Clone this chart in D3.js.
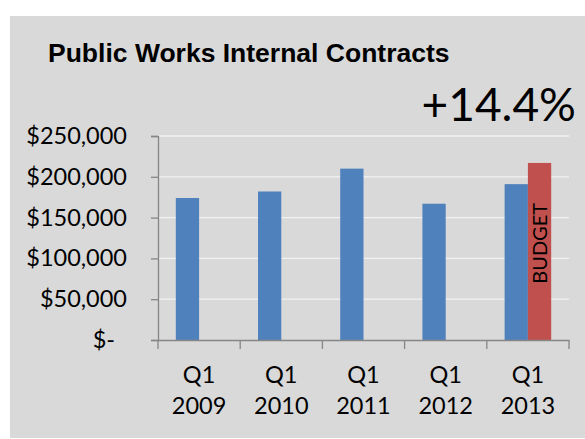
<!DOCTYPE html>
<html>
<head>
<meta charset="utf-8">
<script src="https://cdnjs.cloudflare.com/ajax/libs/d3/7.8.5/d3.min.js"></script>
<style>
body { margin: 0; background: #fff; }
svg text { font-family: Lato, "Open Sans", sans-serif; fill: #000; }
</style>
</head>
<body>
<svg id="chart"></svg>
<script>
const categories = ["Q1 2009", "Q1 2010", "Q1 2011", "Q1 2012", "Q1 2013"];
const quarterLabels = ["Q1", "Q1", "Q1", "Q1", "Q1"];
const yearLabels = ["2009", "2010", "2011", "2012", "2013"];
const actualValues = [174000, 182000, 210000, 167000, 191000];
const budgetValues = [null, null, null, null, 217000];
const seriesNames = ["Actual", "Budget"];
const yTicks = [0, 50000, 100000, 150000, 200000, 250000];
const titleText = "Public Works Internal Contracts";
const changeText = "+14.4%";
const budgetLabel = "BUDGET";

const width = 585, height = 439;
const plotLeft = 158, plotRight = 569, plotTop = 136, plotBottom = 340;

const svg = d3.select("#chart")
    .attr("width", width)
    .attr("height", height);

// panel background
svg.append("rect")
    .attr("x", 10).attr("y", 16)
    .attr("width", width - 10).attr("height", height - 17)
    .attr("fill", "#d9d9d9");

// scales
const x = d3.scaleBand()
    .domain(categories)
    .range([plotLeft, plotRight])
    .padding(0);

const xs = d3.scaleBand()
    .domain(seriesNames)
    .range([0, x.bandwidth()])
    .paddingInner(0)
    .paddingOuter(0.765);

const y = d3.scaleLinear()
    .domain([0, 250000])
    .range([plotBottom, plotTop]);

// gridlines
svg.append("g")
    .selectAll("line")
    .data(yTicks.filter(d => d > 0))
    .enter()
    .append("line")
    .attr("x1", plotLeft).attr("x2", plotRight)
    .attr("y1", d => y(d)).attr("y2", d => y(d))
    .attr("stroke", "#f2f2f2")
    .attr("stroke-width", 1.3);

// bars
const rows = categories.map((c, i) => ({ key: c, Actual: actualValues[i], Budget: budgetValues[i] }));
const colors = { Actual: "#4f81bd", Budget: "#c0504d" };

const groups = svg.append("g")
    .selectAll("g")
    .data(rows)
    .enter()
    .append("g")
    .attr("transform", d => `translate(${x(d.key)},0)`);

groups.selectAll("rect")
    .data(d => seriesNames.filter(s => d[s] != null).map(s => ({ s: s, v: d[s] })))
    .enter()
    .append("rect")
    .attr("x", d => xs(d.s))
    .attr("width", xs.bandwidth())
    .attr("y", d => y(d.v))
    .attr("height", d => plotBottom - y(d.v))
    .attr("fill", d => colors[d.s]);

// budget label inside bar
groups.filter(d => d.Budget != null)
    .append("text")
    .attr("transform", d => `translate(${xs("Budget") + xs.bandwidth() / 2},${y(d.Budget) + 40}) rotate(-90)`)
    .attr("text-anchor", "end")
    .attr("dy", "0.36em")
    .style("font-size", "20px")
    .text(budgetLabel);

// y axis
const yAxis = d3.axisLeft(y)
    .tickValues(yTicks)
    .tickSize(7)
    .tickPadding(24)
    .tickFormat(d => d === 0 ? "$-" : "$" + d3.format(",")(d));

const gy = svg.append("g")
    .attr("transform", `translate(${plotLeft},0)`)
    .call(yAxis);
gy.select(".domain").attr("stroke", "#868686").attr("stroke-width", 1.3);
gy.selectAll(".tick line").attr("stroke", "#868686").attr("stroke-width", 1.3);
gy.selectAll(".tick text")
    .style("font-size", "23.5px")
    .attr("fill", "#000")
    .attr("x", d => d === 0 ? -43 : -31);

// x axis
const xAxis = d3.axisBottom(x).tickSize(0).tickFormat("");
const gx = svg.append("g")
    .attr("transform", `translate(0,${plotBottom})`)
    .call(xAxis);
gx.select(".domain").attr("stroke", "#868686").attr("stroke-width", 1.3);

// category boundary ticks
gx.append("g")
    .selectAll("line")
    .data(categories.concat([null]))
    .enter()
    .append("line")
    .attr("x1", d => d === null ? plotRight : x(d))
    .attr("x2", d => d === null ? plotRight : x(d))
    .attr("y1", 0).attr("y2", 9)
    .attr("stroke", "#868686")
    .attr("stroke-width", 1.3);

// two-line category labels
const lbl = gx.append("g")
    .selectAll("text")
    .data(categories)
    .enter()
    .append("text")
    .attr("text-anchor", "middle")
    .style("font-size", "23.5px");
lbl.append("tspan")
    .attr("x", d => x(d) + x.bandwidth() / 2)
    .attr("y", 43)
    .text((d, i) => quarterLabels[i]);
lbl.append("tspan")
    .attr("x", d => x(d) + x.bandwidth() / 2)
    .attr("y", 74)
    .text((d, i) => yearLabels[i]);

// title
svg.append("text")
    .attr("x", 48).attr("y", 62)
    .style("font-family", "'Liberation Sans', Arial, sans-serif")
    .style("font-weight", "bold")
    .style("font-size", "26.5px")
    .text(titleText);

// change annotation
svg.append("text")
    .attr("x", 576).attr("y", 121)
    .attr("text-anchor", "end")
    .style("font-size", "46px")
    .text(changeText);
</script>
</body>
</html>
